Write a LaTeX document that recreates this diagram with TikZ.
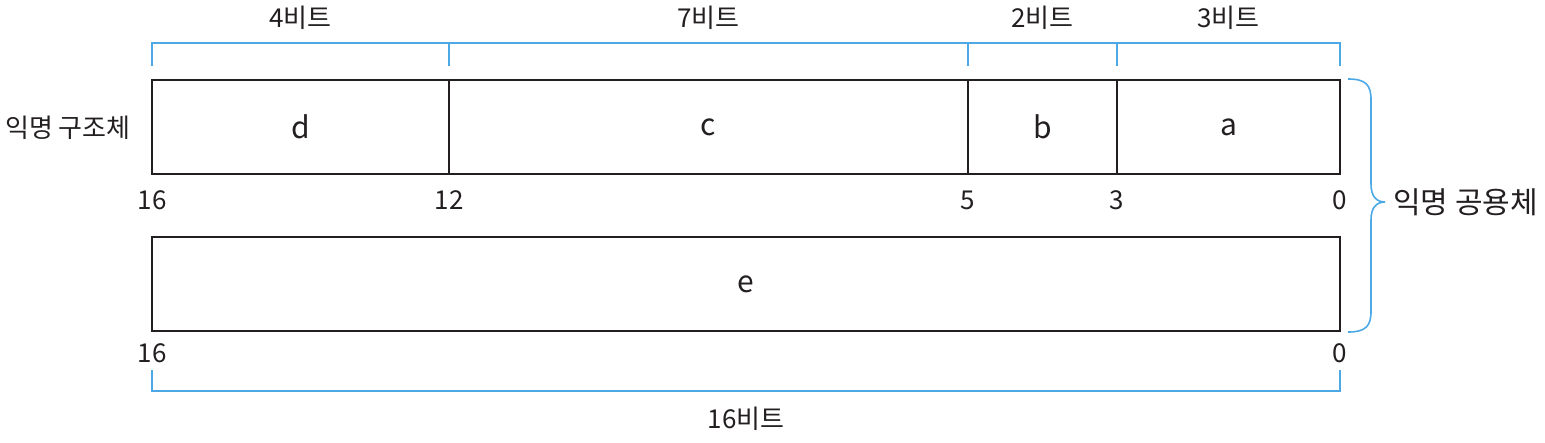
\documentclass[tikz,border=0pt]{standalone}
\usepackage{fontspec}
\setmainfont{Noto Sans CJK KR}
\definecolor{brk}{HTML}{4DA8E6}
\definecolor{ink}{HTML}{231F20}
\begin{document}
\begin{tikzpicture}[x=1pt,y=-1pt,
  field/.style={draw=ink,line width=2pt,rectangle,inner sep=0pt,minimum height=94pt,anchor=center,font=\fontsize{30}{34}\selectfont,text=ink},
  lbl/.style={inner sep=0pt,font=\fontsize{26}{30}\selectfont,text=ink},
  bline/.style={draw=brk,line width=1.6pt}]
\useasboundingbox (0,0) rectangle (1545,442);
% structure fields
\node[field,minimum width=297pt] (d) at (300.5,127) {d};
\node[field,minimum width=519pt] (c) at (708.5,127) {c};
\node[field,minimum width=149pt] (b) at (1042.5,127) {b};
\node[field,minimum width=223pt] (a) at (1228.5,127) {a};
% union field
\node[field,minimum width=1188pt] (e) at (746,284) {e};
% bit numbers
\node[lbl] (n16) at (152,200) {16};
\node[lbl] (n12) at (449,200) {12};
\node[lbl] (n5) at (968,200) {5};
\node[lbl] (n3) at (1117,200) {3};
\node[lbl] (n0) at (1340,200) {0};
\node[lbl] (m16) at (152,353) {16};
\node[lbl] (m0) at (1340,353) {0};
% top bracket
\draw[bline] (152,66) -- (152,43) -- (1340,43) -- (1340,66);
\foreach \x in {449,968,1117} \draw[bline] (\x,43) -- (\x,66);
\node[lbl] (w4) at (300.5,18) {4비트};
\node[lbl] (w7) at (708.5,18) {7비트};
\node[lbl] (w2) at (1042.5,18) {2비트};
\node[lbl] (w3) at (1228.5,18) {3비트};
% bottom bracket
\draw[bline] (152,370) -- (152,391) -- (1340,391) -- (1340,370);
\node[lbl] (w16) at (746,419) {16비트};
% left label
\node[lbl] (st) at (68,128) {익명 구조체};
% brace
\draw[bline] (1348,79) .. controls (1366,79) and (1371,85) .. (1371,100) -- (1371,184)
  .. controls (1371,196) and (1376,202) .. (1385,202)
  .. controls (1376,202) and (1371,208) .. (1371,220) -- (1371,311)
  .. controls (1371,326) and (1366,332) .. (1348,332);
\coordinate (tip) at (1385,202);
\node[lbl,anchor=west,font=\fontsize{30}{34}\selectfont] (un) at ([xshift=8pt]tip) {익명 공용체};
\end{tikzpicture}
\end{document}
